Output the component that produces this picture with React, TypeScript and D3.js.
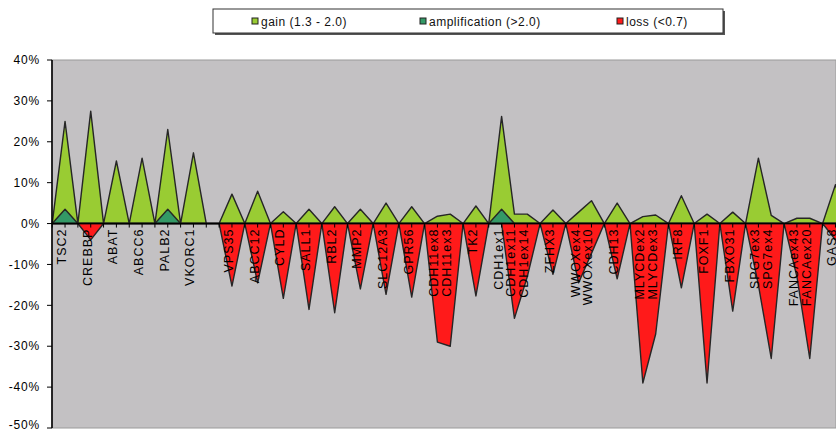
import React from 'react';
import * as d3 from 'd3';

// chromosome 16 probes, blanks are spacer categories
const categories = [
  '', 'TSC2', '', 'CREBBP', '', 'ABAT', '', 'ABCC6', '', 'PALB2', '', 'VKORC1', '', '',
  'VPS35', '', 'ABCC12', '', 'CYLD', '', 'SALL1', '', 'RBL2', '', 'MMP2', '', 'SLC12A3', '',
  'GPR56', '', 'CDH11ex8', 'CDH11ex3', '', 'TK2', '', 'CDH1ex1', 'CDH1ex11', 'CDH1ex14', '',
  'ZFHX3', '', 'WWOXex4', 'WWOXex10', '', 'CDH13', '', 'MLYCDex2', 'MLYCDex3', '', 'IRF8', '',
  'FOXF1', '', 'FBXO31', '', 'SPG7ex3', 'SPG7ex4', '', 'FANCAex43', 'FANCAex20', '', 'GAS8', ''
];

const gain = [
  0, 25, 0, 27.5, 0, 15.3, 0, 16, 0, 23, 0, 17.3, 0, 0,
  7.2, 0, 7.9, 0, 2.9, 0, 3.5, 0, 4.1, 0, 3.5, 0, 5, 0,
  4.1, 0, 1.8, 2.3, 0, 4.3, 0, 26.2, 2.3, 2.3, 0,
  3.3, 0, 2.8, 5.6, 0, 5, 0, 1.7, 2.1, 0, 6.8, 0,
  2.3, 0, 2.8, 0, 16, 2, 0, 1.3, 1.3, 0, 9.5, 0
];

const amplification = [
  0, 3.5, 0, 0, 0, 0, 0, 0, 0, 3.5, 0, 0, 0, 0,
  0, 0, 0, 0, 0, 0, 0, 0, 0, 0, 0, 0, 0, 0,
  0, 0, 0, 0, 0, 0, 0, 3.5, 0, 0, 0,
  0, 0, 0, 0, 0, 0, 0, 0, 0, 0, 0, 0,
  0, 0, 0, 0, 0, 0, 0, 0, 0, 0, 0, 0
];

const loss = [
  0, 0, 0, -4, 0, 0, 0, 0, 0, 0, 0, 0, 0, 0,
  -15.3, 0, -14.5, 0, -18.3, 0, -21, 0, -21.8, 0, -16, 0, -17.3, 0,
  -18, 0, -29, -30, 0, -17.7, 0, 0, -23.2, -13, 0,
  -12.4, 0, -14.5, -7.3, 0, -13.5, 0, -39, -27, 0, -15.7, 0,
  -39, 0, -21.4, 0, -15, -33, 0, -13, -33, 0, -4, 0
];

const yTicks = [40, 30, 20, 10, 0, -10, -20, -30, -40, -50];

const legendItems = [
  { label: 'gain (1.3 - 2.0)', color: '#99CC33', x: 252 },
  { label: 'amplification (>2.0)', color: '#339966', x: 420 },
  { label: 'loss (<0.7)', color: '#FF1A1A', x: 617 }
];

const W = 836;
const H = 432;
const plot = { left: 52, top: 60, right: 836, bottom: 428 };
const step = 12.84;

export default function App() {
  const idx = categories.map((_, i) => i);
  const x = d3.scaleLinear().domain([0, categories.length - 1])
    .range([plot.left + 0.2, plot.left + 0.2 + step * (categories.length - 1)]);
  const y = d3.scaleLinear().domain([-50, 40]).range([plot.bottom, plot.top]);

  const areaOf = (vals: number[]) =>
    d3.area<number>()
      .x(i => x(i))
      .y0(y(0))
      .y1(i => y(vals[i]))(idx) || '';

  const font = '"Liberation Sans", Arial, sans-serif';

  return (
    <svg width={W} height={H} style={{ position: 'absolute', left: 0, top: 0, background: '#fff' }}
      fontFamily={font}>
      {/* legend */}
      <rect x={215} y={11} width={510} height={24} fill="#555" />
      <rect x={213} y={9} width={510} height={24} fill="#fff" stroke="#333" strokeWidth={1} />
      {legendItems.map(d => (
        <g key={d.label}>
          <rect x={d.x} y={18} width={6} height={6} fill={d.color} stroke="#222" strokeWidth={1} />
          <text x={d.x + 9} y={25.5} fontSize={12} letterSpacing={0.5} fill="#111">{d.label}</text>
        </g>
      ))}

      {/* plot area */}
      <rect x={plot.left} y={plot.top} width={plot.right - plot.left} height={plot.bottom - plot.top}
        fill="#C3C1C3" stroke="#9a9a9a" strokeWidth={1} />

      <path d={areaOf(gain)} fill="#99CC33" stroke="#262626" strokeWidth={1.4} strokeLinejoin="round" />
      <path d={areaOf(amplification)} fill="#339966" stroke="#262626" strokeWidth={1.4} strokeLinejoin="round" />
      <path d={areaOf(loss)} fill="#FF1A1A" stroke="#262626" strokeWidth={1.4} strokeLinejoin="round" />

      {/* category axis at 0 */}
      <line x1={plot.left} x2={plot.right} y1={y(0)} y2={y(0)} stroke="#000" strokeWidth={1.6} />
      {idx.map(i => (
        <line key={'t' + i} x1={x(i)} x2={x(i)} y1={y(0)} y2={y(0) + 4} stroke="#000" strokeWidth={1} />
      ))}
      {categories.map((c, i) => c ? (
        <text key={'c' + i} transform={`translate(${x(i) + 1},${y(0) + 5}) rotate(-90)`}
          textAnchor="end" fontSize={12.5} letterSpacing={1} fill="#000">{c}</text>
      ) : null)}

      {/* value axis */}
      <line x1={plot.left} x2={plot.left} y1={plot.top} y2={plot.bottom} stroke="#000" strokeWidth={1.6} />
      {yTicks.map(t => (
        <g key={t}>
          <line x1={plot.left - 5} x2={plot.left} y1={y(t)} y2={y(t)} stroke="#000" />
          <text x={40} y={y(t)} dy={t === -50 ? '0.1em' : '0.35em'} textAnchor="end" fontSize={12}
            letterSpacing={0.8} fill="#000">{`${t}%`}</text>
        </g>
      ))}
    </svg>
  );
}
